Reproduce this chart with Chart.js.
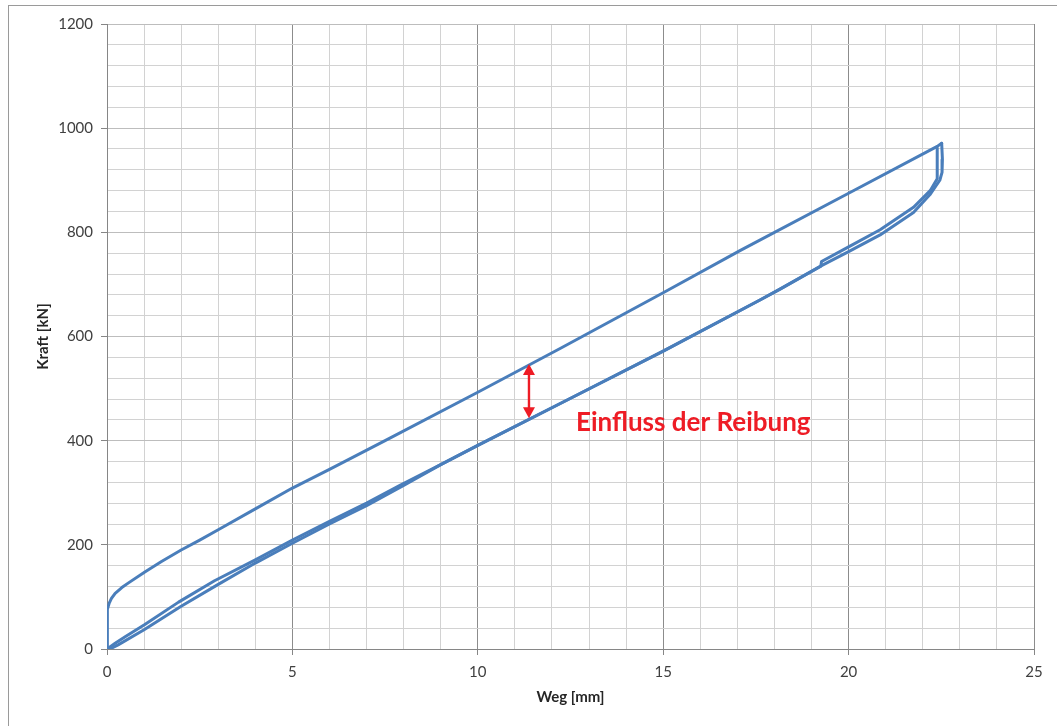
<!DOCTYPE html>
<html>
<head>
<meta charset="utf-8">
<script src="https://cdn.jsdelivr.net/npm/chart.js@4/dist/chart.umd.min.js"></script>
<style>
  html, body { margin: 0; padding: 0; background: #ffffff; }
  canvas { display: block; }
</style>
</head>
<body>
<canvas id="c" width="1057" height="726"></canvas>
<script>
// Belastung: Anfahren aus dem Ursprung bis zum Umkehrpunkt
const upperWeg   = [0, 0, 0.02, 0.06, 0.12, 0.22, 0.4, 0.58, 1.02, 1.47, 2.0, 2.5, 3.0, 4.0, 5.0, 6.0, 7.5, 10.0, 12.22, 15.0, 17.07, 20.0, 22.39, 22.51];
const upperKraft = [0, 40, 76, 88, 97, 107, 118, 127, 148, 168, 190, 209, 229, 269, 309, 345, 400, 493, 577, 684, 765, 875, 965, 971];

// Entlastung, erster Durchgang (vom Umkehrpunkt zurück zum Ursprung)
const lowerAWeg   = [22.51, 22.53, 22.52, 22.46, 22.19, 21.75, 20.85, 20.0, 19.27, 18.15, 17.61, 15.0, 12.49, 10.0, 9.0, 7.9, 7.0, 6.0, 5.0, 4.0, 2.9, 1.93, 1.02, 0.5, 0.22, 0];
const lowerAKraft = [971, 940, 915, 900, 872, 838, 795, 763, 736, 691, 670, 572, 481, 391, 354, 314, 280, 245, 209, 171, 131, 90, 47, 24, 11, 0];

// Zweiter Durchgang auf dem unteren Ast
const lowerBWeg   = [0.08, 0.3, 1.0, 2.0, 3.0, 4.0, 5.0, 6.0, 7.0, 8.0, 9.0, 10.0, 12.49, 15.0, 17.61, 18.15, 19.25, 19.27, 20.0, 20.85, 21.75, 22.2, 22.39, 22.39];
const lowerBKraft = [0, 8, 37, 82, 124, 165, 203, 240, 275, 314, 354, 391, 481, 572, 670, 691, 735, 744, 772, 805, 848, 880, 903, 962];

// Achsen
const xMin = 0, xMax = 25, xStep = 1, xLabelStep = 5;
const yMin = 0, yMax = 1200, yStep = 40, yLabelStep = 200;
const xTitle = 'Weg [mm]';
const yTitle = 'Kraft [kN]';

// Beschriftung des Reibungseinflusses
const noteText = 'Einfluss der Reibung';
const noteWeg = 12.65, noteKraft = 434;
const arrowWeg = 11.38, arrowFrom = 547, arrowTo = 443;

const zip = (xs, ys) => xs.map((x, i) => ({ x: x, y: ys[i] }));

const lineColor = '#4a7ebb';
const baseFont = 'Lato, "Open Sans", sans-serif';

const frame = {
  id: 'frame',
  beforeDraw(chart) {
    const ctx = chart.ctx;
    ctx.save();
    ctx.fillStyle = '#ffffff';
    ctx.fillRect(0, 0, chart.width, chart.height);
    ctx.strokeStyle = '#9a9a9a';
    ctx.lineWidth = 1;
    ctx.strokeRect(8.5, 5.5, chart.width + 20, chart.height + 20);
    ctx.restore();
  }
};

const note = {
  id: 'note',
  afterDatasetsDraw(chart) {
    const ctx = chart.ctx;
    const xs = chart.scales.x, ys = chart.scales.y;
    const ax = xs.getPixelForValue(arrowWeg);
    const a1 = ys.getPixelForValue(arrowFrom);
    const a2 = ys.getPixelForValue(arrowTo);
    const head = 11, half = 6;
    ctx.save();
    ctx.strokeStyle = '#ee1c25';
    ctx.fillStyle = '#ee1c25';
    ctx.lineWidth = 2.4;
    ctx.beginPath();
    ctx.moveTo(ax, a1 + head - 1);
    ctx.lineTo(ax, a2 - head + 1);
    ctx.stroke();
    ctx.beginPath();
    ctx.moveTo(ax, a1);
    ctx.lineTo(ax - half, a1 + head);
    ctx.lineTo(ax + half, a1 + head);
    ctx.closePath();
    ctx.fill();
    ctx.beginPath();
    ctx.moveTo(ax, a2);
    ctx.lineTo(ax - half, a2 - head);
    ctx.lineTo(ax + half, a2 - head);
    ctx.closePath();
    ctx.fill();

    ctx.font = 'bold 26px ' + baseFont;
    ctx.textAlign = 'left';
    ctx.textBaseline = 'middle';
    ctx.fillText(noteText, xs.getPixelForValue(noteWeg), ys.getPixelForValue(noteKraft));
    ctx.restore();
  }
};

new Chart(document.getElementById('c'), {
  type: 'scatter',
  data: {
    datasets: [
      { data: zip(lowerBWeg, lowerBKraft) },
      { data: zip(lowerAWeg, lowerAKraft) },
      { data: zip(upperWeg, upperKraft) }
    ].map(d => Object.assign(d, {
      showLine: true,
      borderColor: lineColor,
      backgroundColor: lineColor,
      borderWidth: 3,
      pointRadius: 0,
      pointHoverRadius: 0,
      tension: 0,
      borderJoinStyle: 'round',
      borderCapStyle: 'round',
      fill: false
    }))
  },
  options: {
    responsive: false,
    animation: false,
    events: [],
    layout: { padding: { left: 0, top: 24, right: 23, bottom: 0 } },
    plugins: { legend: { display: false }, tooltip: { enabled: false } },
    scales: {
      x: {
        type: 'linear',
        min: xMin, max: xMax,
        afterFit(s) { s.height = 77; },
        border: { color: '#868686', width: 1 },
        grid: {
          color: c => (c.tick && c.tick.value % xLabelStep === 0) ? '#8c8c8c' : '#d2d2d2',
          tickColor: c => (c.tick && c.tick.value % xLabelStep === 0) ? '#868686' : 'rgba(0,0,0,0)',
          tickLength: 6,
          lineWidth: 1
        },
        ticks: {
          stepSize: xStep,
          autoSkip: false,
          maxRotation: 0,
          padding: 8,
          color: '#404040',
          font: { family: baseFont, size: 15 },
          callback: v => (v % xLabelStep === 0 ? String(v) : '')
        },
        title: {
          display: true,
          text: xTitle,
          color: '#262626',
          font: { family: baseFont, size: 15, weight: 'bold' },
          padding: { top: 0, bottom: 20 }
        }
      },
      y: {
        type: 'linear',
        min: yMin, max: yMax,
        afterFit(s) { s.width = 107; },
        border: { color: '#868686', width: 1 },
        grid: {
          color: c => (c.tick && c.tick.value % yLabelStep === 0) ? '#bdbdbd' : '#d2d2d2',
          tickColor: c => (c.tick && c.tick.value % yLabelStep === 0) ? '#868686' : 'rgba(0,0,0,0)',
          tickLength: 6,
          lineWidth: 1
        },
        ticks: {
          stepSize: yStep,
          autoSkip: false,
          padding: 8,
          color: '#404040',
          font: { family: baseFont, size: 15 },
          callback: v => (v % yLabelStep === 0 ? String(v) : '')
        },
        title: {
          display: true,
          text: yTitle,
          color: '#262626',
          font: { family: baseFont, size: 15, weight: 'bold' },
          padding: { top: 34, bottom: 0 }
        }
      }
    }
  },
  plugins: [frame, note]
});
</script>
</body>
</html>
